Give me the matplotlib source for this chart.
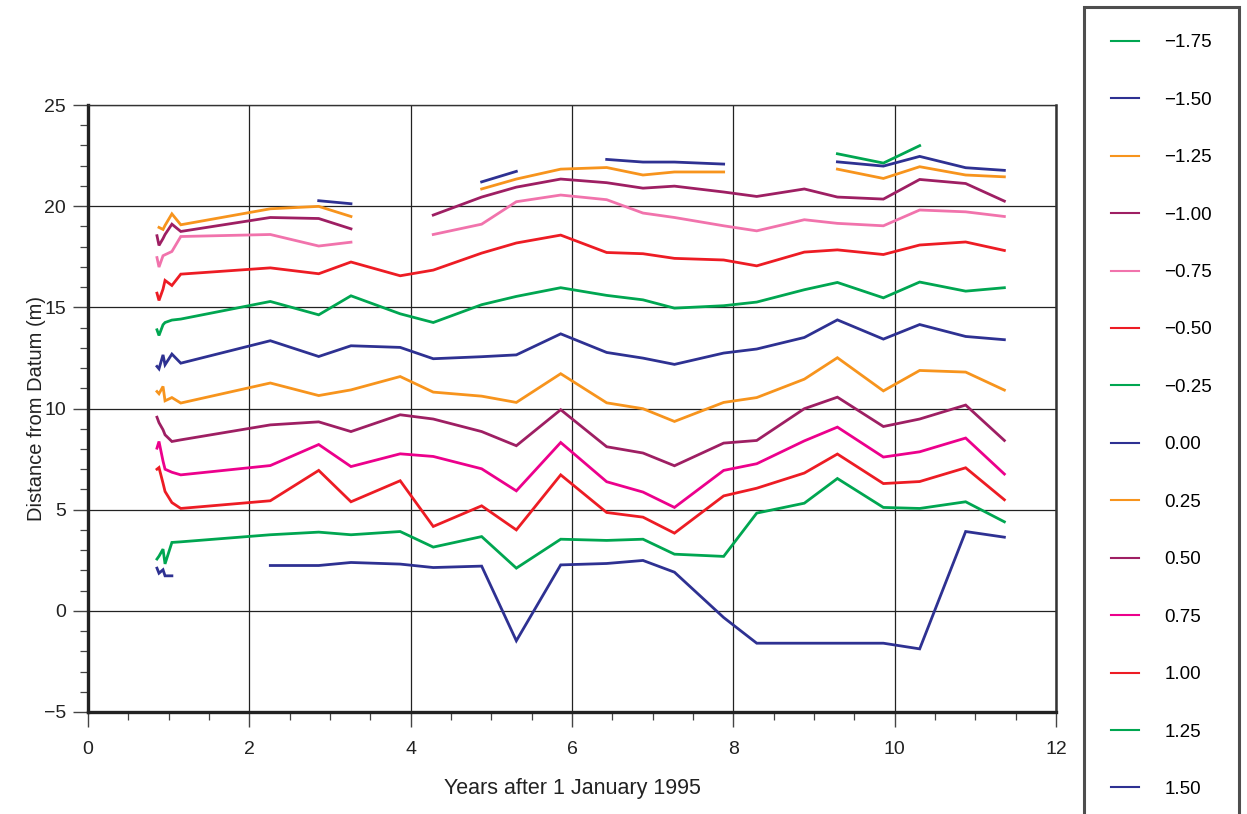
import matplotlib.pyplot as plt
from matplotlib.ticker import MultipleLocator
import numpy as np

plt.rcParams['font.family'] = ['Liberation Sans', 'DejaVu Sans']

nan = np.nan

# survey dates, years after 1 Jan 1995
years = [0.855, 0.88, 0.93, 0.955, 1.04, 1.15, 2.26, 2.86, 3.26, 3.87, 4.28, 4.88, 5.31,
         5.86, 6.43, 6.88, 7.27, 7.88, 8.29, 8.88, 9.29, 9.86, 10.31, 10.88, 11.36]

labels = ['\u22121.75', '\u22121.50', '\u22121.25', '\u22121.00', '\u22120.75', '\u22120.50',
          '\u22120.25', '0.00', '0.25', '0.50', '0.75', '1.00', '1.25', '1.50']

colors = ['#00a651', '#2e3192', '#f7941d', '#9e1f63', '#f173ac', '#ed1c24',
          '#00a651', '#2e3192', '#f7941d', '#9e1f63', '#ec008c', '#ed1c24',
          '#00a651', '#2e3192']

d_m175 = [nan, nan, nan, nan, nan, nan, nan, nan, nan, nan, nan, nan, nan,
          nan, nan, nan, nan, nan, nan, nan, 22.59, 22.13, 22.99, nan, nan]
d_m150 = [nan, nan, nan, nan, nan, nan, nan, 20.27, 20.12, nan, nan, 21.2, 21.72,
          nan, 22.31, 22.18, 22.18, 22.08, nan, nan, 22.19, 21.98, 22.46, 21.9, 21.77]
d_m125 = [nan, 18.95, 18.85, 19.05, 19.62, 19.08, 19.87, 19.99, 19.49, nan, nan, 20.85, 21.34,
          21.83, 21.91, 21.54, 21.69, 21.69, nan, nan, 21.83, 21.37, 21.95, 21.54, 21.45]
d_m100 = [18.54, 18.06, 18.4, 18.6, 19.11, 18.75, 19.44, 19.39, 18.88, nan, 19.56, 20.45, 20.94,
          21.34, 21.16, 20.89, 20.99, 20.7, 20.48, 20.85, 20.45, 20.35, 21.32, 21.12, 20.25]
d_m075 = [17.46, 16.99, 17.55, 17.6, 17.76, 18.5, 18.6, 18.03, 18.22, nan, 18.6, 19.11, 20.22,
          20.55, 20.32, 19.66, 19.44, 19.03, 18.78, 19.33, 19.15, 19.03, 19.81, 19.72, 19.49]
d_m050 = [15.70, 15.34, 15.9, 16.33, 16.08, 16.64, 16.95, 16.66, 17.24, 16.56, 16.84, 17.68, 18.18,
          18.57, 17.71, 17.65, 17.42, 17.34, 17.05, 17.73, 17.84, 17.61, 18.08, 18.23, 17.81]
d_m025 = [13.89, 13.61, 14.14, 14.25, 14.37, 14.42, 15.29, 14.63, 15.57, 14.68, 14.25, 15.13, 15.54,
          15.97, 15.59, 15.37, 14.96, 15.08, 15.26, 15.87, 16.23, 15.47, 16.25, 15.80, 15.97]
d_000 = [12.08, 11.96, 12.65, 12.16, 12.69, 12.24, 13.35, 12.57, 13.1, 13.02, 12.46, 12.56, 12.65,
         13.69, 12.77, 12.49, 12.18, 12.74, 12.94, 13.51, 14.38, 13.43, 14.15, 13.56, 13.40]
d_025 = [10.84, 10.73, 11.09, 10.38, 10.54, 10.27, 11.26, 10.64, 10.92, 11.58, 10.81, 10.61, 10.30,
         11.72, 10.28, 9.99, 9.36, 10.30, 10.54, 11.45, 12.51, 10.87, 11.88, 11.80, 10.91]
d_050 = [9.57, 9.3, 8.95, 8.70, 8.37, 8.45, 9.19, 9.34, 8.86, 9.69, 9.48, 8.86, 8.16,
         9.94, 8.11, 7.80, 7.17, 8.29, 8.42, 9.99, 10.56, 9.11, 9.48, 10.17, 8.42]
d_075 = [8.04, 8.37, 7.4, 7.0, 6.85, 6.72, 7.18, 8.22, 7.13, 7.76, 7.63, 7.02, 5.93,
         8.32, 6.38, 5.87, 5.11, 6.94, 7.27, 8.40, 9.08, 7.60, 7.86, 8.54, 6.76]
d_100 = [7.0, 7.08, 6.31, 5.9, 5.35, 5.06, 5.44, 6.94, 5.39, 6.43, 4.17, 5.19, 4.0,
         6.72, 4.86, 4.63, 3.84, 5.68, 6.06, 6.81, 7.75, 6.29, 6.39, 7.07, 5.49]
d_125 = [2.56, 2.7, 3.05, 2.32, 3.38, 3.41, 3.76, 3.89, 3.76, 3.92, 3.15, 3.67, 2.11,
         3.54, 3.48, 3.54, 2.80, 2.69, 4.83, 5.32, 6.54, 5.11, 5.06, 5.39, 4.40]
d_150 = [2.11, 1.86, 2.03, 1.73, 1.73, nan, 2.24, 2.24, 2.39, 2.31, 2.14, 2.21, -1.48,
         2.27, 2.34, 2.49, 1.91, -0.33, -1.6, -1.6, -1.6, -1.6, -1.88, 3.92, 3.64]

series = [d_m175, d_m150, d_m125, d_m100, d_m075, d_m050, d_m025,
          d_000, d_025, d_050, d_075, d_100, d_125, d_150]

fig = plt.figure(figsize=(12.47, 8.14), dpi=100)
ax = fig.add_axes([88 / 1247, 1 - 712 / 814, (1056 - 88) / 1247, (712 - 105) / 814])

for ys, lab, col in zip(series, labels, colors):
    ax.plot(years, ys, color=col, lw=2.0, label=lab, solid_joinstyle='miter')

ax.set_xlim(0, 12)
ax.set_ylim(-5, 25)
ax.xaxis.set_major_locator(MultipleLocator(2))
ax.xaxis.set_minor_locator(MultipleLocator(0.5))
ax.yaxis.set_major_locator(MultipleLocator(5))
ax.yaxis.set_minor_locator(MultipleLocator(1))
ax.yaxis.set_major_formatter(plt.FuncFormatter(lambda v, p: f'{v:.0f}'.replace('-', '\u2212')))
ax.grid(True, which='major', color='#222222', lw=0.9)
ax.set_axisbelow(True)
ax.tick_params(which='major', direction='out', length=11, width=1, labelsize=14,
               color='#444444', labelcolor='#222222')
ax.tick_params(which='minor', direction='out', length=5.5, width=0.9, color='#444444')
ax.tick_params(axis='x', which='major', pad=10)
ax.tick_params(axis='y', which='major', pad=5)
ax.tick_params(axis='y', which='both', right=False)
for side in ['left', 'bottom']:
    ax.spines[side].set_linewidth(2.4)
    ax.spines[side].set_color('#222222')
ax.spines['right'].set_linewidth(1.8)
ax.spines['right'].set_color('#333333')
ax.spines['top'].set_linewidth(1.0)
ax.spines['top'].set_color('#333333')

ax.set_xlabel('Years after 1 January 1995', fontsize=15.5, color='#222222', labelpad=14)
ax.set_ylabel('Distance from Datum (m)', fontsize=14.5, color='#222222', labelpad=-2)

leg = fig.legend(loc='upper left', bbox_to_anchor=(1084 / 1247, 1 - 7 / 814),
                 fontsize=13.5, frameon=True, fancybox=False, edgecolor='#222222',
                 labelspacing=2.15, handlelength=1.5, handletextpad=1.33,
                 borderpad=1.45, borderaxespad=0)
leg.get_frame().set_linewidth(2.2)
for h in leg.get_lines():
    h.set_linewidth(1.5)

fig.savefig('out.png', dpi=100)
